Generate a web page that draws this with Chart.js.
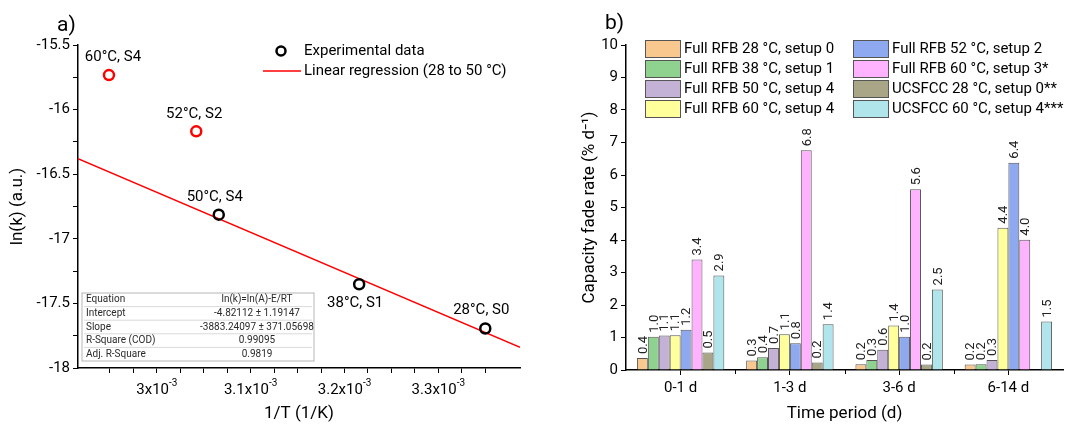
<!DOCTYPE html>
<html>
<head>
<meta charset="utf-8">
<script src="https://cdn.jsdelivr.net/npm/chart.js@4.4.1/dist/chart.umd.min.js"></script>
<style>
  html, body { margin: 0; padding: 0; background: #fff; }
  #wrap { position: relative; width: 1067px; height: 427px; }
  #chartA { position: absolute; left: 0; top: 0; }
  #chartB { position: absolute; left: 540px; top: 0; }
</style>
</head>
<body>
<div id="wrap">
  <canvas id="chartA" width="540" height="427"></canvas>
  <canvas id="chartB" width="527" height="427"></canvas>
</div>
<script>
// ---- panel a: Arrhenius plot ----
const pointNames = ['60°C, S4', '52°C, S2', '50°C, S4', '38°C, S1', '28°C, S0'];
const invTemp = [2.949e-3, 3.042e-3, 3.066e-3, 3.2156e-3, 3.350e-3];
const lnRate = [-15.733, -16.168, -16.813, -17.352, -17.694];
const inFit = [false, false, true, true, true];
const fitInvTemp = [2.916e-3, 3.387e-3];
const fitLnRate = [-16.38, -17.84];
const xMajorValues = [3.0e-3, 3.1e-3, 3.2e-3, 3.3e-3];
const xMajorText = ['3x10', '3.1x10', '3.2x10', '3.3x10'];
const fitRows = [
  ['Equation', 'ln(k)=ln(A)-E/RT'],
  ['Intercept', '-4.82112 ± 1.19147'],
  ['Slope', '-3883.24097 ± 371.05698'],
  ['R-Square (COD)', '0.99095'],
  ['Adj. R-Square', '0.9819']
];

// ---- panel b: capacity fade rates ----
const periods = ['0-1 d', '1-3 d', '3-6 d', '6-14 d'];
const seriesNames = [
  'Full RFB 28 °C, setup 0', 'Full RFB 38 °C, setup 1', 'Full RFB 50 °C, setup 4', 'Full RFB 60 °C, setup 4',
  'Full RFB 52 °C, setup 2', 'Full RFB 60 °C, setup 3*', 'UCSFCC 28 °C, setup 0**', 'UCSFCC 60 °C, setup 4***'
];
const rfb28 = [0.37, 0.29, 0.18, 0.17];
const rfb38 = [1.02, 0.39, 0.31, 0.18];
const rfb50 = [1.06, 0.68, 0.62, 0.31];
const rfb60s4 = [1.07, 1.10, 1.37, 4.38];
const rfb52 = [1.24, 0.82, 1.02, 6.38];
const rfb60s3 = [3.40, 6.76, 5.56, 4.01];
const ucs28 = [0.54, 0.23, 0.17, null];
const ucs60 = [2.91, 1.41, 2.48, 1.49];

const barColors = ['#f9c88f', '#8fd18f', '#c4b1d6', '#ffff9c', '#8fa9f0', '#ffb3ff', '#a9a688', '#b0e5ec'];

Chart.defaults.font.family = 'Roboto';
Chart.defaults.color = '#000';

const axisFont = { size: 15 };
const titleFont = { size: 17 };

// draws the a) extras: superscript tick labels, point labels, legend, fit table
const panelAExtras = {
  id: 'panelAExtras',
  afterDraw(chart) {
    const { ctx, scales: { x, y } } = chart;
    ctx.save();
    ctx.fillStyle = '#000';
    ctx.font = '21px Roboto';
    ctx.fillText('a)', 57, 31);

    // x tick labels 3x10^-3 ...
    xMajorValues.forEach((v, i) => {
      const px = x.getPixelForValue(v);
      ctx.font = '15px Roboto';
      const w1 = ctx.measureText(xMajorText[i]).width;
      ctx.font = '10px Roboto';
      const w2 = ctx.measureText('-3').width;
      const start = px - (w1 + w2) / 2;
      ctx.font = '15px Roboto';
      ctx.fillText(xMajorText[i], start, 394);
      ctx.font = '10px Roboto';
      ctx.fillText('-3', start + w1, 386);
    });

    // point labels
    const labelShift = [[4, -18], [-2, -17], [-4, -17], [-4, 19], [-4, -18]];
    ctx.font = '15px Roboto';
    ctx.textAlign = 'center';
    ctx.textBaseline = 'middle';
    const meta = chart.getDatasetMeta(0);
    meta.data.forEach((pt, i) => {
      ctx.fillText(pointNames[i], pt.x + labelShift[i][0], pt.y + labelShift[i][1]);
    });

    // legend
    ctx.textAlign = 'left';
    ctx.lineWidth = 2.5;
    ctx.strokeStyle = '#000';
    ctx.beginPath();
    ctx.arc(281, 51, 4.5, 0, Math.PI * 2);
    ctx.stroke();
    ctx.fillText('Experimental data', 304, 51);
    ctx.strokeStyle = '#ff0000';
    ctx.lineWidth = 1.3;
    ctx.beginPath();
    ctx.moveTo(263, 71);
    ctx.lineTo(301, 71);
    ctx.stroke();
    ctx.fillText('Linear regression (28 to 50 °C)', 304, 71);

    // fit results table
    const tx = 82, ty = 293, tw = 232, rh = 13.6;
    ctx.fillStyle = '#fff';
    ctx.fillRect(tx, ty, tw, rh * fitRows.length);
    ctx.strokeStyle = '#d9d9d9';
    ctx.lineWidth = 1;
    for (let r = 1; r < fitRows.length; r++) {
      ctx.beginPath();
      ctx.moveTo(tx + 2, ty + r * rh);
      ctx.lineTo(tx + tw - 2, ty + r * rh);
      ctx.stroke();
    }
    ctx.strokeStyle = '#b5b5b5';
    ctx.strokeRect(tx, ty, tw, rh * fitRows.length);
    ctx.fillStyle = '#2a2a2a';
    ctx.font = '10px Roboto';
    fitRows.forEach((row, r) => {
      const cy = ty + r * rh + rh / 2;
      ctx.textAlign = 'left';
      ctx.fillText(row[0], tx + 4, cy);
      ctx.textAlign = 'center';
      ctx.fillText(row[1], tx + 175, cy);
    });
    ctx.restore();
  }
};

new Chart(document.getElementById('chartA'), {
  type: 'scatter',
  data: {
    datasets: [
      {
        label: 'Experimental data',
        data: invTemp.map((v, i) => ({ x: v, y: lnRate[i] })),
        pointRadius: 5,
        pointBorderWidth: 2.5,
        pointBackgroundColor: 'rgba(0,0,0,0)',
        pointBorderColor: ctx => inFit[ctx.dataIndex] ? '#000' : '#ff0000',
        showLine: false,
        order: 0
      },
      {
        label: 'Linear regression (28 to 50 °C)',
        data: fitInvTemp.map((v, i) => ({ x: v, y: fitLnRate[i] })),
        borderColor: '#ff0000',
        borderWidth: 1.3,
        pointRadius: 0,
        showLine: true,
        order: 1
      }
    ]
  },
  options: {
    responsive: false,
    animation: false,
    layout: { padding: { left: 0, top: 45, right: 20, bottom: 0 } },
    plugins: { legend: { display: false }, tooltip: { enabled: false } },
    scales: {
      x: {
        type: 'linear',
        min: 2.916e-3,
        max: 3.387e-3,
        afterFit: s => { s.height = 59; },
        afterBuildTicks: s => {
          s.ticks = s.ticks.filter(t => {
            const k = t.value / 2.5e-5;
            return Math.abs(k - Math.round(k)) < 1e-6;
          });
        },
        ticks: { stepSize: 2.5e-5, callback: () => '', font: axisFont },
        grid: { drawOnChartArea: false, tickLength: 5, color: '#000' },
        border: { color: '#000', width: 1.5 },
        title: { display: true, text: '1/T (1/K)', font: titleFont, padding: { top: 0, bottom: 3 } }
      },
      y: {
        min: -18,
        max: -15.5,
        afterFit: s => { s.width = 78; },
        ticks: {
          stepSize: 0.25,
          padding: 3,
          font: axisFont,
          callback: v => Math.abs(v * 2 - Math.round(v * 2)) < 1e-9 ? String(v) : ''
        },
        grid: { drawOnChartArea: false, tickLength: 5, color: '#000' },
        border: { color: '#000', width: 1.5 },
        title: { display: true, text: 'ln(k) (a.u.)', font: titleFont, padding: { top: 8, bottom: 0 } }
      }
    }
  },
  plugins: [panelAExtras]
});

// draws the b) extras: rotated value labels, legend, minor category ticks
const panelBExtras = {
  id: 'panelBExtras',
  afterDatasetsDraw(chart) {
    const { ctx } = chart;
    ctx.save();
    ctx.font = '13px Roboto';
    ctx.fillStyle = '#222';
    ctx.textAlign = 'left';
    ctx.textBaseline = 'middle';
    chart.data.datasets.forEach((ds, di) => {
      chart.getDatasetMeta(di).data.forEach((bar, i) => {
        const v = ds.data[i];
        if (v == null) return;
        ctx.save();
        ctx.translate(bar.x + 1, bar.y - 4);
        ctx.rotate(-Math.PI / 2);
        ctx.fillText(v.toFixed(1), 0, 0);
        ctx.restore();
      });
    });
    ctx.restore();
  },
  afterDraw(chart) {
    const { ctx, chartArea, scales: { x } } = chart;
    ctx.save();
    ctx.fillStyle = '#000';
    ctx.font = '21px Roboto';
    ctx.fillText('b)', 65, 29);

    // short ticks between categories
    ctx.strokeStyle = '#000';
    ctx.lineWidth = 1;
    for (let i = 0; i < periods.length - 1; i++) {
      const px = Math.round((x.getPixelForTick(i) + x.getPixelForTick(i + 1)) / 2) + 0.5;
      ctx.beginPath();
      ctx.moveTo(px, chartArea.bottom);
      ctx.lineTo(px, chartArea.bottom + 4);
      ctx.stroke();
    }

    // legend, two columns of four
    ctx.font = '15px Roboto';
    ctx.textBaseline = 'middle';
    chart.data.datasets.forEach((ds, i) => {
      const col = Math.floor(i / 4), row = i % 4;
      const bx = 105 + col * 208, by = 40 + row * 20;
      ctx.fillStyle = ds.backgroundColor;
      ctx.fillRect(bx, by, 35, 17);
      ctx.strokeStyle = '#555';
      ctx.strokeRect(bx + 0.5, by + 0.5, 35, 17);
      ctx.fillStyle = '#000';
      ctx.fillText(ds.label, bx + 39, by + 9);
    });
    ctx.restore();
  }
};

const seriesValues = [rfb28, rfb38, rfb50, rfb60s4, rfb52, rfb60s3, ucs28, ucs60];

new Chart(document.getElementById('chartB'), {
  type: 'bar',
  data: {
    labels: periods,
    datasets: seriesNames.map((name, i) => ({
      label: name,
      data: seriesValues[i],
      backgroundColor: barColors[i],
      borderColor: '#555',
      borderWidth: 1,
      borderSkipped: 'bottom',
      categoryPercentage: 0.8,
      barPercentage: 1.0
    }))
  },
  options: {
    responsive: false,
    animation: false,
    layout: { padding: { left: 0, top: 45, right: 4, bottom: 0 } },
    plugins: { legend: { display: false }, tooltip: { enabled: false } },
    scales: {
      x: {
        afterFit: s => { s.height = 57; },
        ticks: { font: axisFont, padding: 4 },
        grid: { offset: false, drawOnChartArea: false, tickLength: 5, color: '#000' },
        border: { color: '#000', width: 1.5 },
        title: { display: true, text: 'Time period (d)', font: titleFont, padding: { top: 0, bottom: 3 } }
      },
      y: {
        min: 0,
        max: 10,
        afterFit: s => { s.width = 86; },
        ticks: {
          stepSize: 0.5,
          padding: 3,
          font: axisFont,
          callback: v => Number.isInteger(v) ? String(v) : ''
        },
        grid: { drawOnChartArea: false, tickLength: 5, color: '#000' },
        border: { color: '#000', width: 1.5 },
        title: { display: true, text: 'Capacity fade rate (% d⁻¹)', font: titleFont, padding: { top: 40, bottom: 0 } }
      }
    }
  },
  plugins: [panelBExtras]
});
</script>
</body>
</html>
